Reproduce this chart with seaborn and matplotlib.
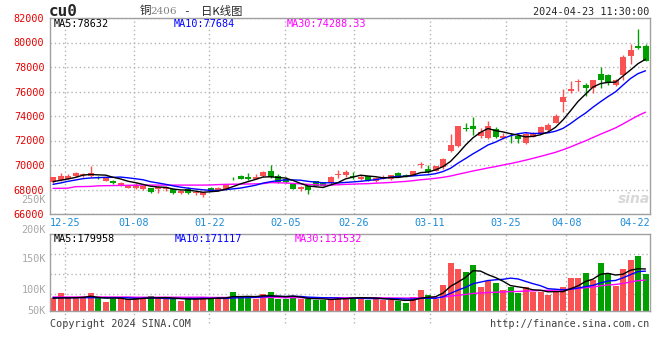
import numpy as np
import pandas as pd
import matplotlib.pyplot as plt
import matplotlib.transforms as mtransforms
import seaborn as sns

# ---- data ----
holidays = ["2024-01-01", "2024-02-09", "2024-02-12", "2024-02-13", "2024-02-14",
            "2024-02-15", "2024-02-16", "2024-04-04", "2024-04-05"]
days = pd.bdate_range("2023-12-21", "2024-04-23")
days = days[~days.isin(pd.to_datetime(holidays))]
dates = days.strftime("%m-%d").tolist()

opens = [68640, 68776, 68885, 69102, 69184, 69102, 68994, 68722, 68722, 68395,
         68123, 68096, 68042, 68096, 68069, 68014, 68014, 67688, 68014, 67688,
         67552, 68096, 67906, 68014, 68930, 69102, 68994, 68885, 69102, 69510,
         69102, 68858, 68422, 68014, 68286, 68668, 68558, 68504, 69210, 69157,
         69060, 68830, 69102, 68722, 68885, 68830, 69374, 69140, 69184, 69980,
         69646, 69510, 69868, 71174, 71554, 72940, 73186, 72398, 72180, 72914,
         72180, 72200, 72398, 71772, 72316, 72588, 72860, 73459, 75172, 76042,
         76750, 76532, 76260, 77430, 77348, 76532, 77348, 78926, 79714, 79714]
highs = [69048, 69320, 69266, 69429, 69374, 69918, 69102, 69020, 68750, 68613,
         68400, 68558, 68320, 68120, 68286, 68286, 68050, 67950, 68232, 67850,
         67800, 68232, 68180, 68480, 69048, 69184, 69320, 69266, 69510, 70000,
         69266, 68994, 68450, 68260, 68320, 68700, 68600, 69080, 69592, 69592,
         69456, 69184, 69130, 69000, 69184, 69210, 69400, 69266, 69540, 70272,
         70000, 69950, 70550, 72507, 73186, 73459, 73948, 72996, 73622, 73132,
         72588, 72588, 72588, 72670, 72670, 73186, 73404, 74166, 76178, 76858,
         77049, 76722, 76940, 78028, 77402, 76994, 78980, 79878, 81102, 79850]
lows = [68558, 68722, 68830, 69048, 69048, 69048, 68885, 68700, 68480, 68286,
        68096, 68069, 67980, 67740, 67688, 67906, 67650, 67650, 67650, 67552,
        67362, 67880, 67880, 67990, 68776, 68830, 68776, 68830, 69048, 68939,
        68558, 68504, 68040, 67878, 67606, 68260, 68260, 68480, 68912, 69048,
        68830, 68776, 68700, 68613, 68830, 68800, 69020, 68994, 69150, 69728,
        69374, 69480, 69678, 71092, 71500, 72751, 72479, 72180, 72098, 72180,
        72098, 71772, 71826, 71690, 72262, 72534, 72806, 73404, 74356, 75906,
        76070, 75634, 75906, 76260, 76532, 76450, 76940, 78218, 79442, 78490]
closes = [68994, 69130, 69102, 69374, 69240, 69320, 68939, 68994, 68504, 68558,
          68368, 68368, 68286, 67770, 68232, 68232, 67688, 67906, 67688, 67824,
          67770, 67906, 68150, 68450, 68900, 68885, 68830, 69048, 69429, 68994,
          68613, 68586, 68069, 68232, 67960, 68286, 68286, 69048, 69240, 69456,
          69040, 69048, 68722, 68966, 68994, 69184, 69048, 69120, 69510, 70020,
          69429, 69918, 70466, 71636, 73186, 72914, 72914, 72670, 73214, 72316,
          72398, 72170, 72098, 72507, 72507, 73078, 73268, 74030, 75526, 76206,
          76886, 76260, 76940, 76940, 76722, 76940, 78790, 79388, 79524, 78518]
# volume in thousands of lots
volumes = [54, 77, 54, 54, 54, 77, 54, 38.6, 52.7, 54,
           49.3, 60, 54, 64.3, 54, 55, 50.6, 44, 52.7, 52.7,
           60, 55.7, 55.7, 55.7, 81.4, 60, 60, 51.4, 72.8, 81.4,
           52.7, 49.3, 64.3, 51.4, 51.4, 47.1, 47.1, 50.1, 60, 60,
           60, 55.7, 47.1, 55.7, 47.1, 47.1, 42.8, 34.3, 60, 90,
           68.6, 52.7, 111.4, 205.7, 181.3, 168.4, 197.1, 102.8, 128.6, 120,
           90, 102.8, 77.1, 102.8, 81.4, 81.4, 68.6, 81.4, 102.8, 142.7,
           142.7, 162.8, 132.8, 205.7, 162.8, 107.1, 180, 218.5, 235.7, 159.8]

# moving-average values before a full window exists
ma5_head = [68640, 68750, 68860, 68990]
ma10_head = [68422, 68531, 68667, 68776, 68885, 68940, 68966, 68994, 68994]
ma30_head = [68090, 68100, 68110, 68230, 68240, 68250, 68300, 68310, 68320, 68330,
             68340, 68350, 68360, 68360, 68360, 68360, 68360, 68360, 68360, 68360,
             68360, 68370, 68400, 68420, 68430, 68440, 68450, 68460, 68480]
vol_ma5_head = [55, 56, 56, 57]
vol_ma10_head = [57, 57, 57, 57, 57, 57, 57, 57, 57]
vol_ma30_head = [60, 60, 60, 60, 60, 60, 60, 60, 60, 60, 60,
                 59, 59, 59, 59, 59, 59, 59, 59, 59, 59,
                 58, 58, 58, 58, 58, 58, 58, 58]

price_ticks = [66000, 68000, 70000, 72000, 74000, 76000, 78000, 80000, 82000]
tick_dates = ["12-25", "01-08", "01-22", "02-05", "02-26", "03-11", "03-25", "04-08", "04-22"]
vol_labels = ["250K", "200K", "150K", "100K", "50K"]


def with_head(series, window, head):
    ma = series.rolling(window).mean()
    ma.iloc[:len(head)] = head
    return ma


RED, GREEN = "#FA5252", "#00A000"
GRID = "#B4B4B4"
FS = 7.3
W, H = 660, 360

sns.set_theme(style="white")
plt.rcParams["font.family"] = ["DejaVu Sans Mono", "Noto Sans CJK SC"]
plt.rcParams["font.size"] = FS

fig = plt.figure(figsize=(6.6, 3.6), dpi=100)


def box(l, t, r, b):
    return [l / W, 1 - b / H, (r - l) / W, (b - t) / H]


def ftext(x, y, s, **kw):
    kw.setdefault("fontsize", FS)
    fig.text(x / W, 1 - y / H, s, va="center", **kw)


ax = fig.add_axes(box(50, 18, 650, 214))
axv = fig.add_axes(box(50, 234, 650, 311))

n = len(dates)
x = np.arange(n)
o, h, l, c = (np.array(v, dtype=float) for v in (opens, highs, lows, closes))
colors = np.where(c >= o, RED, GREEN)

# sina spaces its date gridlines on n-1 slots, bars on n slots
grid_x = [dates.index(d) * n / (n - 1) - 0.4 for d in tick_dates]

for a in (ax, axv):
    a.set_xlim(-0.4, n - 0.4)
    for gx in grid_x[:-1]:
        a.axvline(gx, color=GRID, lw=1, ls=(0, (1, 2)), zorder=0)
    for s in a.spines.values():
        s.set_color("#A0A0A0")
        s.set_linewidth(1)
    a.tick_params(length=0, labelsize=FS)

# extra dotted tails below the volume panel
for gx in grid_x[:-1]:
    axv.axvline(gx, ymin=-0.15, ymax=0, color=GRID, lw=1, ls=(0, (1, 2)), clip_on=False)

# ---- price panel ----
ax.vlines(x, l, h, colors=colors, lw=1, zorder=2)
body = np.maximum(np.abs(c - o), 70)
ax.bar(x, body, bottom=np.minimum(o, c), width=0.8, color=colors, lw=0, zorder=3)

cs = pd.Series(closes, dtype=float)
ma5 = with_head(cs, 5, ma5_head)
ma10 = with_head(cs, 10, ma10_head)
ma30 = with_head(cs, 30, ma30_head)
sns.lineplot(x=x, y=ma30, ax=ax, color="#FF00FF", lw=1, zorder=4)
sns.lineplot(x=x, y=ma10, ax=ax, color="#0000FF", lw=1, zorder=4)
sns.lineplot(x=x, y=ma5, ax=ax, color="black", lw=1, zorder=4)

ax.set_ylim(price_ticks[0], price_ticks[-1])
ax.set_yticks(price_ticks, [str(t) for t in price_ticks], color="#E60000", fontsize=FS)
ax.grid(axis="y", color=GRID, lw=1, ls=(0, (1, 2)))
ax.set_xticks(grid_x, tick_dates, color="#1B8BD8", fontsize=FS)
ax.tick_params(axis="y", pad=4)
ax.tick_params(axis="x", pad=3)
last = ax.get_xticklabels()[-1]
last.set_transform(last.get_transform() + mtransforms.ScaledTranslation(-0.08, 0, fig.dpi_scale_trans))
ax.set_xlabel("")
ax.set_ylabel("")

# ---- volume panel ----
vs = pd.Series(volumes, dtype=float)
axv.bar(x, vs, width=0.8, color=colors, lw=0, zorder=2)
sns.lineplot(x=x, y=with_head(vs, 30, vol_ma30_head), ax=axv, color="#FF00FF", lw=1, zorder=4)
sns.lineplot(x=x, y=with_head(vs, 10, vol_ma10_head), ax=axv, color="#0000FF", lw=1, zorder=4)
sns.lineplot(x=x, y=with_head(vs, 5, vol_ma5_head), ax=axv, color="black", lw=1, zorder=4)

vtop = 330
axv.set_ylim(0, vtop)
axv.set_yticks([vtop - k * vtop * 20 / 77 for k in (1, 2, 3)], [])
axv.grid(axis="y", color=GRID, lw=1, ls=(0, (1, 2)))
axv.set_xticks([])
axv.set_xlabel("")
axv.set_ylabel("")

# sina draws its volume labels at fixed rows, not at their values
lab_tr = mtransforms.blended_transform_factory(axv.transAxes, axv.transData) + \
    mtransforms.ScaledTranslation(-0.04, 0, fig.dpi_scale_trans)
for lab, yv in zip(vol_labels, [475, 347, 223, 90, 0]):
    axv.text(0, yv, lab, transform=lab_tr, ha="right", va="center",
             color="#A8A8A8", fontsize=FS, clip_on=False)

# ---- header / footer texts ----
ftext(49, 11.5, "cu0", fontsize=11.5, fontweight="bold")
ftext(140, 11, "铜", family=["Noto Sans CJK SC", "DejaVu Sans"], fontsize=8.2)
ftext(150.5, 11.5, "2406", family="DejaVu Serif", color="#808080", fontsize=7.5)
ftext(183, 11, "-", fontsize=8)
ftext(201, 11, "日K线图", family=["Noto Sans CJK SC", "DejaVu Sans"], fontsize=8.2)
ftext(649, 12, "2024-04-23 11:30:00", ha="right")

ftext(54, 23.7, "MA5:78632", color="black")
ftext(174, 23.7, "MA10:77684", color="#0000FF")
ftext(287, 23.7, "MA30:74288.33", color="#FF00FF")
ftext(54, 239, "MA5:179958", color="black")
ftext(175, 239, "MA10:171117", color="#0000FF")
ftext(295, 239, "MA30:131532", color="#FF00FF")

ftext(50, 324, "Copyright 2024 SINA.COM", color="#404040")
ftext(649, 324, "http://finance.sina.com.cn", ha="right", color="#404040")
ftext(634, 199, "sina", ha="center", family="DejaVu Sans", fontsize=10,
      fontweight="bold", style="italic", color="#D8D8D8")

fig.savefig("out.png", dpi=100)
